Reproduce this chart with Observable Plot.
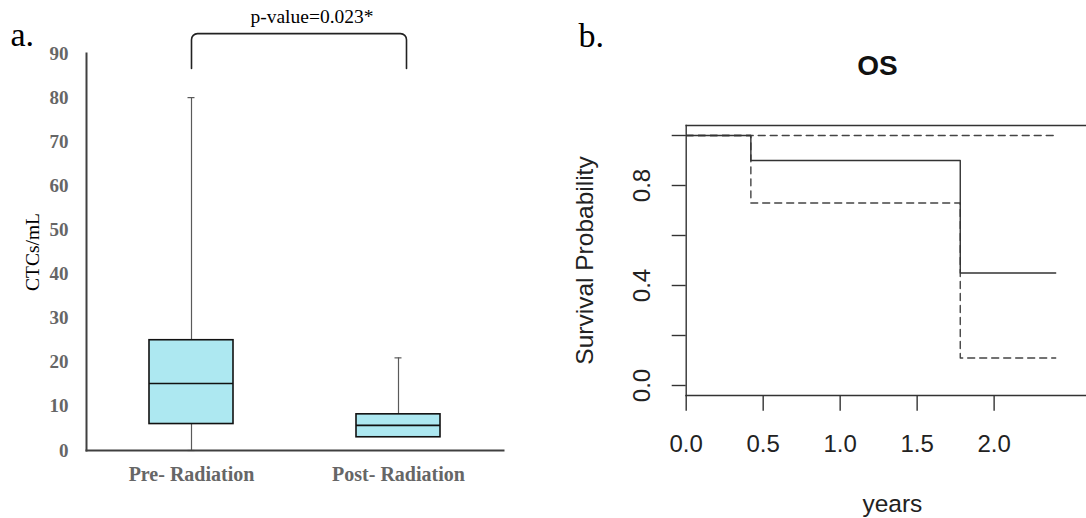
<!DOCTYPE html>
<html>
<head>
<meta charset="utf-8">
<script src="https://cdn.jsdelivr.net/npm/d3@7"></script>
<script src="https://cdn.jsdelivr.net/npm/@observablehq/plot@0.6"></script>
<style>
  html, body { margin: 0; padding: 0; background: #fff; }
  #wrap { position: relative; width: 1086px; height: 518px; overflow: hidden; background: #fff; }
  #wrap svg { position: absolute; top: 0; }
</style>
</head>
<body>
<div id="wrap"></div>
<script>
// ---------- Panel a: box plot data ----------
const categories = ["Pre- Radiation", "Post- Radiation"];
const whiskerLow = [0, 3];
const q1 = [6, 3];
const median = [15.2, 5.7];
const q3 = [25, 8.2];
const whiskerHigh = [80, 21];
const yTicksA = [0, 10, 20, 30, 40, 50, 60, 70, 80, 90];
const pLabel = "p-value=0.023*";
const bracketX = ["Pre- Radiation", "Pre- Radiation", "Post- Radiation", "Post- Radiation"];
const bracketY = [86.6, 94.5, 94.5, 86.6];

// ---------- Panel b: Kaplan-Meier data ----------
const kmTime = [0, 0.42, 1.78, 2.40];
const kmSurv = [1, 0.90, 0.45, 0.45];
const kmLower = [1, 0.73, 0.11, 0.11];
const kmUpper = [1, 1, 1, 1];
const xTicksB = [0, 0.5, 1, 1.5, 2];
const yTicksB = [0, 0.2, 0.4, 0.6, 0.8, 1.0];
const yLabeledB = [0, 0.4, 0.8];

const boxes = categories.map((c, i) => ({
  cat: c, lo: whiskerLow[i], q1: q1[i], med: median[i], q3: q3[i], hi: whiskerHigh[i]
}));
const bracket = bracketX.map((x, i) => ({x, y: bracketY[i]}));

// rounded-corner path; the right-hand leg sits slightly right of the box centre
function roundedCorners(r, rightShift) {
  return function(context) {
    let pts;
    return {
      areaStart() {}, areaEnd() {},
      lineStart() { pts = []; },
      point(x, y) { pts.push([+x, +y]); },
      lineEnd() {
        if (!pts.length) return;
        const n = pts.length;
        for (let i = Math.floor(n / 2); i < n; i++) pts[i][0] += rightShift;
        context.moveTo(pts[0][0], pts[0][1]);
        for (let i = 1; i < n - 1; i++) {
          context.arcTo(pts[i][0], pts[i][1], pts[i + 1][0], pts[i + 1][1], r);
        }
        context.lineTo(pts[n - 1][0], pts[n - 1][1]);
      }
    };
  };
}

const serif = "'Liberation Serif', 'Times New Roman', serif";
const sans = "'Liberation Sans', Arial, Helvetica, sans-serif";

const plotA = Plot.plot({
  width: 540,
  height: 518,
  marginLeft: 86,
  marginRight: 37,
  marginTop: 53,
  marginBottom: 68,
  style: {fontFamily: serif, background: "transparent", overflow: "visible"},
  x: {domain: categories, paddingInner: 0.594, paddingOuter: 0.304, label: null},
  y: {domain: [0, 90], label: null},
  marks: [
    // whiskers
    Plot.ruleX(boxes, {x: "cat", y1: "lo", y2: "q1", stroke: "#5a5a5a", strokeWidth: 1.2}),
    Plot.ruleX(boxes, {x: "cat", y1: "q3", y2: "hi", stroke: "#5a5a5a", strokeWidth: 1.2}),
    Plot.tickY(boxes, {x: "cat", y: "hi", stroke: "#5a5a5a", strokeWidth: 1.2, insetLeft: 38.5, insetRight: 38.5}),
    Plot.tickY(boxes.filter(d => d.lo < d.q1), {x: "cat", y: "lo", stroke: "#5a5a5a", strokeWidth: 1.2, insetLeft: 38.5, insetRight: 38.5}),
    // boxes
    Plot.barY(boxes, {x: "cat", y1: "q1", y2: "q3", fill: "#ade8f1", stroke: "#111", strokeWidth: 1.6}),
    Plot.tickY(boxes, {x: "cat", y: "med", stroke: "#111", strokeWidth: 1.6}),
    // axes
    Plot.frame({anchor: "left", stroke: "#404040", strokeWidth: 2}),
    Plot.frame({anchor: "bottom", stroke: "#404040", strokeWidth: 2}),
    Plot.axisY({ticks: yTicksA, tickSize: 0, tickPadding: 18, fontSize: 19, fontWeight: "bold", fill: "#666", label: null}),
    Plot.axisX({tickSize: 0, tickPadding: 16, fontSize: 20, fontWeight: "bold", fill: "#666", label: null}),
    // y label
    Plot.text(["CTCs/mL"], {frameAnchor: "left", textAnchor: "middle", rotate: -90, dx: -54, fontSize: 19.5, fill: "#000"}),
    // significance bracket
    Plot.line(bracket, {x: "x", y: "y", stroke: "#222", strokeWidth: 1.6, curve: roundedCorners(6, 8)}),
    Plot.text([pLabel], {frameAnchor: "top", dx: 17, dy: -31, lineAnchor: "bottom", fontSize: 19.5, fill: "#000"}),
    // panel letter
    Plot.text(["a."], {frameAnchor: "top-left", textAnchor: "start", lineAnchor: "bottom", dx: -76, dy: -8, fontSize: 34, fill: "#000"})
  ]
});
plotA.style.left = "0px";

const kmRows = (vals) => kmTime.map((t, i) => ({t, s: vals[i]}));

const plotB = Plot.plot({
  width: 546,
  height: 518,
  marginLeft: 145.7,
  marginRight: 0,
  marginTop: 125,
  marginBottom: 123,
  style: {fontFamily: sans, background: "transparent", overflow: "visible"},
  x: {domain: [0, 2.6], label: null},
  y: {domain: [-0.04, 1.04], label: null},
  marks: [
    Plot.frame({anchor: "top", stroke: "#333", strokeWidth: 1.4}),
    Plot.frame({anchor: "left", stroke: "#333", strokeWidth: 1.4}),
    Plot.frame({anchor: "bottom", stroke: "#333", strokeWidth: 1.4}),
    Plot.line(kmRows(kmUpper), {x: "t", y: "s", curve: "step-after", stroke: "#444", strokeWidth: 1.4, strokeDasharray: "7,5"}),
    Plot.line(kmRows(kmLower), {x: "t", y: "s", curve: "step-after", stroke: "#444", strokeWidth: 1.4, strokeDasharray: "7,5"}),
    Plot.line(kmRows(kmSurv), {x: "t", y: "s", curve: "step-after", stroke: "#333", strokeWidth: 1.4}),
    Plot.axisY({ticks: yTicksB, tickSize: 14, tickPadding: 22, tickRotate: -90,
      tickFormat: d => yLabeledB.includes(d) ? d.toFixed(1) : "",
      fontSize: 24, stroke: "#333", fill: "#222", strokeWidth: 1.4, label: null}),
    Plot.axisX({ticks: xTicksB, tickSize: 15.7, tickPadding: 24, tickFormat: d => d.toFixed(1),
      fontSize: 24, stroke: "#333", fill: "#222", strokeWidth: 1.4, label: null}),
    Plot.text(["Survival Probability"], {frameAnchor: "left", textAnchor: "middle", rotate: -90, dx: -100.7, fontSize: 24.5, fill: "#222"}),
    Plot.text(["years"], {frameAnchor: "bottom", lineAnchor: "bottom", dx: 6, dy: 116, fontSize: 24.5, fill: "#222"}),
    Plot.text(["OS"], {frameAnchor: "top", lineAnchor: "bottom", dx: -8.85, dy: -51, fontSize: 28, fontWeight: "bold", fill: "#111"}),
    Plot.text(["b."], {frameAnchor: "top-left", textAnchor: "start", lineAnchor: "bottom", dx: -107.7, dy: -79, fontSize: 34, fontFamily: serif, fill: "#000"})
  ]
});
plotB.style.left = "540px";

const wrap = document.getElementById("wrap");
wrap.appendChild(plotA);
wrap.appendChild(plotB);
</script>
</body>
</html>
